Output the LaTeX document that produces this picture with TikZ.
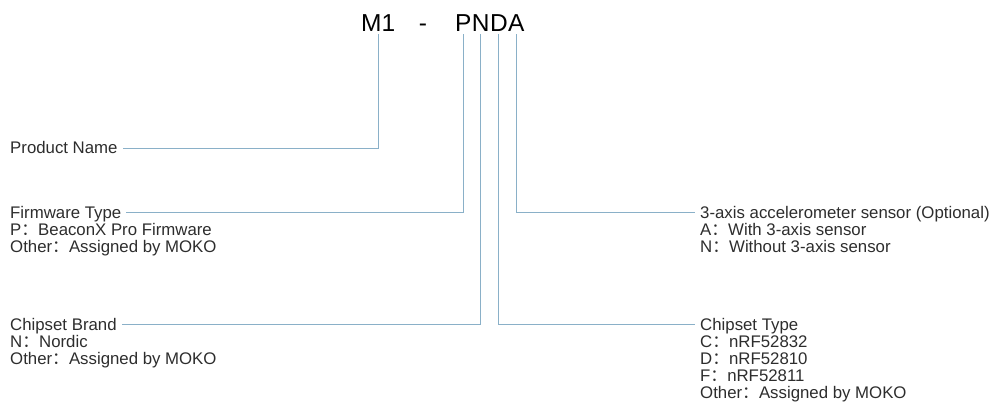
\documentclass[tikz,border=0pt]{standalone}
\usepackage{fontspec}
\setmainfont{Liberation Sans}
\newfontfamily\cjk{Noto Sans CJK SC}
\newcommand\fwcolon{{\cjk ：}}
\definecolor{leadblue}{RGB}{138,176,200}
\definecolor{inkgray}{RGB}{45,45,45}

\begin{document}
\begin{tikzpicture}[
    x=1pt, y=-1pt,
    every node/.style={inner sep=0pt, text=inkgray},
    code/.style={anchor=base west, font=\fontsize{24.5}{28}\selectfont, text=black},
    head/.style={anchor=base west, font=\fontsize{16.8}{17}\selectfont,
                 text height=11.5pt, text depth=0pt, inner xsep=5pt},
    item/.style={anchor=base west, font=\fontsize{16.8}{17}\selectfont,
                 text height=12pt, text depth=3.5pt},
    lead/.style={draw=leadblue, line width=0.8pt, shorten <=2pt}
  ]
  \useasboundingbox (0,0) rectangle (998,419);

  % part number
  \node[code] (M1) at (361,32) {M1};
  \node[code, anchor=base] (dash) at (423,32) {-};
  \node[code] (P) at (455,32) {P};
  \node[code] (N) at (P.base east) {N};
  \node[code] (D) at (N.base east) {D};
  \node[code] (A) at (D.base east) {A};

  % left side
  \node[head] (pname) at (5,154) {Product Name};
  \node[head] (fwtype) at (5,218.5) {Firmware Type};
  \node[item] (fwP) at (10,235.5) {P\fwcolon BeaconX Pro Firmware};
  \node[item] (fwO) at (10,252.5) {Other\fwcolon Assigned by MOKO};
  \node[head] (brand) at (5,330.5) {Chipset Brand};
  \node[item] (brN) at (10,347.5) {N\fwcolon Nordic};
  \node[item] (brO) at (10,364.5) {Other\fwcolon Assigned by MOKO};

  % right side
  \node[head] (accel) at (695,218.5) {3-axis accelerometer sensor (Optional)};
  \node[item] (acA) at (700,235.5) {A\fwcolon With 3-axis sensor};
  \node[item] (acN) at (700,252.5) {N\fwcolon Without 3-axis sensor};
  \node[head] (ctype) at (695,330.5) {Chipset Type};
  \node[item] (ctC) at (700,347.5) {C\fwcolon nRF52832};
  \node[item] (ctD) at (700,364.5) {D\fwcolon nRF52810};
  \node[item] (ctF) at (700,381.5) {F\fwcolon nRF52811};
  \node[item] (ctO) at (700,398.5) {Other\fwcolon Assigned by MOKO};

  % leaders
  \draw[lead] (M1.south) |- (pname.east);
  \draw[lead] (P.south) |- (fwtype.east);
  \draw[lead] (N.south) |- (brand.east);
  \draw[lead] (D.south) |- (ctype.west);
  \draw[lead] (A.south) |- (accel.west);
\end{tikzpicture}
\end{document}
